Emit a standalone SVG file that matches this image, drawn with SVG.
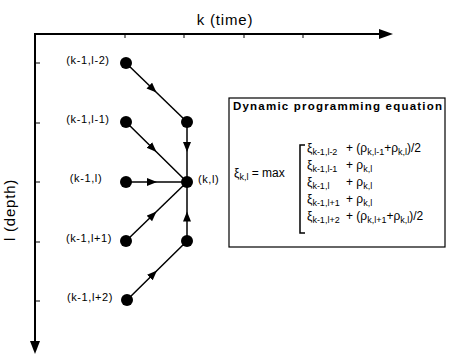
<svg xmlns="http://www.w3.org/2000/svg" width="450" height="355" viewBox="0 0 450 355">
<defs>
<marker id="arr" markerUnits="userSpaceOnUse" markerWidth="11" markerHeight="9" refX="10" refY="4" orient="auto">
<path d="M0,0 L10,4 L0,8 z" fill="#000"/>
</marker>
<style>
text{font-family:"Liberation Sans",Arial,sans-serif;fill:#000}
.ax{font-size:15px;letter-spacing:0.8px}
.lbl{font-size:11px;letter-spacing:0.6px}
.eq{font-size:12px}
.sub{font-size:9px}
.title{font-size:11.5px;font-weight:bold}
.edge{fill:none;stroke:#000;stroke-width:1.5;marker-mid:url(#arr)}
.node{fill:#000}
</style>
</defs>
<rect width="450" height="355" fill="#fff"/>
<g id="axes">
<path d="M35,342 L35,34 L380,34" fill="none" stroke="#000" stroke-width="2"/>
<polygon points="379,29 379,39 393,34" fill="#000"/>
<polygon points="30,341 40,341 35,354" fill="#000"/>
<path d="M125,34 V38 M184,34 V38 M244,34 V38 M303,34 V38 M35,63 H40 M35,123 H40 M35,182 H40 M35,242 H40 M35,301 H40" stroke="#000" stroke-width="1"/>
<text class="ax" x="225" y="25" text-anchor="middle">k  (time)</text>
<text class="ax" transform="translate(15,210) rotate(-90)" text-anchor="middle">l  (depth)</text>
</g>
<g id="connectors">
<polyline class="edge" points="126,63 156.5,92.5 187,122"/>
<polyline class="edge" points="187,122 187,152 187,182"/>
<polyline class="edge" points="126,122 156.5,152 187,182"/>
<polyline class="edge" points="126,182 157,182 187,182"/>
<polyline class="edge" points="126,241 156.5,211.5 187,182"/>
<polyline class="edge" points="187,241 187,211.5 187,182"/>
<polyline class="edge" points="127,300 157,270.5 187,241"/>
</g>
<g id="n1"><circle class="node" cx="126" cy="63" r="6"/><text class="lbl" x="88" y="64" text-anchor="middle">(k-1,l-2)</text></g>
<g id="n2"><circle class="node" cx="126" cy="122" r="6"/><text class="lbl" x="88" y="123" text-anchor="middle">(k-1,l-1)</text></g>
<g id="n3"><circle class="node" cx="126" cy="182" r="6"/><text class="lbl" x="86" y="182" text-anchor="middle">(k-1,l)</text></g>
<g id="n4"><circle class="node" cx="126" cy="241" r="6"/><text class="lbl" x="89" y="242" text-anchor="middle">(k-1,l+1)</text></g>
<g id="n5"><circle class="node" cx="127" cy="300" r="6"/><text class="lbl" x="90" y="301" text-anchor="middle">(k-1,l+2)</text></g>
<g id="n6"><circle class="node" cx="187" cy="122" r="6"/></g>
<g id="n7"><circle class="node" cx="187" cy="182" r="6"/><text class="lbl" x="198" y="183">(k,l)</text></g>
<g id="n8"><circle class="node" cx="187" cy="241" r="6"/></g>
<g id="equation">
<rect x="229" y="98" width="216" height="149" fill="none" stroke="#000" stroke-width="1.2"/>
<text class="title" x="233" y="110" textLength="209" lengthAdjust="spacing">Dynamic programming equation</text>
<text class="eq" x="234" y="177">ξ<tspan class="sub" dy="3">k,l</tspan><tspan dy="-3"> = max</tspan></text>
<path d="M305,145 H300 V233 H305" fill="none" stroke="#000" stroke-width="1.5"/>
<text class="eq" x="307" y="152">ξ<tspan class="sub" dy="3">k-1,l-2</tspan><tspan x="346" dy="-3">+ (ρ</tspan><tspan class="sub" dy="3">k,l-1</tspan><tspan dy="-3">+ρ</tspan><tspan class="sub" dy="3">k,l</tspan><tspan dy="-3">)/2</tspan></text>
<text class="eq" x="307" y="169">ξ<tspan class="sub" dy="3">k-1,l-1</tspan><tspan x="346" dy="-3">+ ρ</tspan><tspan class="sub" dy="3">k,l</tspan></text>
<text class="eq" x="307" y="186">ξ<tspan class="sub" dy="3">k-1,l</tspan><tspan x="346" dy="-3">+ ρ</tspan><tspan class="sub" dy="3">k,l</tspan></text>
<text class="eq" x="307" y="203">ξ<tspan class="sub" dy="3">k-1,l+1</tspan><tspan x="346" dy="-3">+ ρ</tspan><tspan class="sub" dy="3">k,l</tspan></text>
<text class="eq" x="307" y="220">ξ<tspan class="sub" dy="3">k-1,l+2</tspan><tspan x="346" dy="-3">+ (ρ</tspan><tspan class="sub" dy="3">k,l+1</tspan><tspan dy="-3">+ρ</tspan><tspan class="sub" dy="3">k,l</tspan><tspan dy="-3">)/2</tspan></text>
</g>
</svg>
